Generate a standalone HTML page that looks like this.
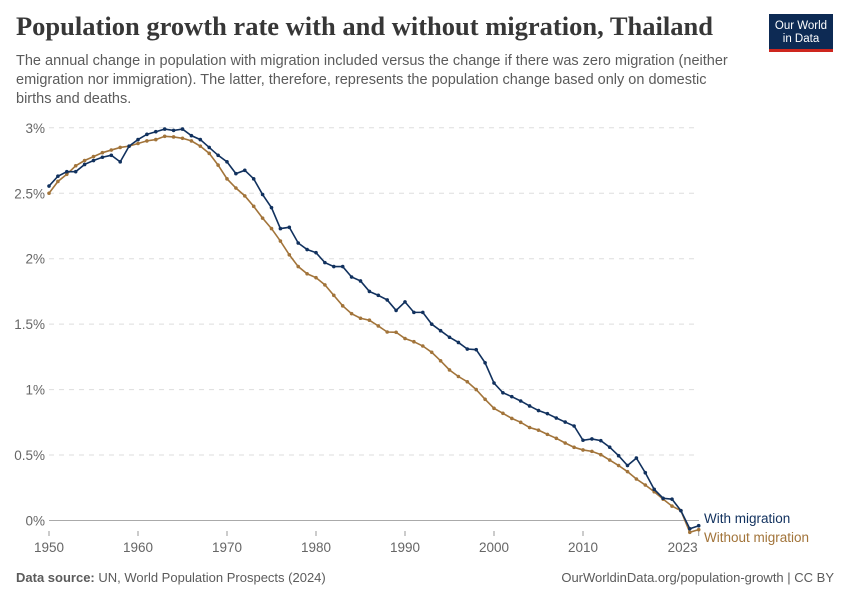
<!DOCTYPE html>
<html><head><meta charset="utf-8">
<style>
body{margin:0;background:#fff;width:850px;height:600px;overflow:hidden;font-family:"Liberation Sans",sans-serif;}
#title{position:absolute;left:16px;top:11px;font-family:"Liberation Serif",serif;font-weight:bold;font-size:26.5px;color:#373737;margin:0;white-space:nowrap;}
#sub{position:absolute;left:16px;top:52px;width:715px;font-size:14.5px;line-height:19px;color:#5b5b5b;}
#logo{position:absolute;left:769px;top:14px;width:64px;height:38px;background:#0d2a54;color:#fff;font-size:11.5px;line-height:12.5px;text-align:center;padding-top:6px;box-sizing:border-box;border-bottom:3px solid #ce261e;}
.foot{position:absolute;top:570px;font-size:13px;color:#5b5b5b;}
</style></head><body>
<h1 id="title">Population growth rate with and without migration, Thailand</h1>
<div id="sub">The annual change in population with migration included versus the change if there was zero migration (neither emigration nor immigration). The latter, therefore, represents the population change based only on domestic births and deaths.</div>
<div id="logo">Our World<br>in Data</div>
<div class="foot" style="left:16px"><b>Data source:</b> UN, World Population Prospects (2024)</div>
<div class="foot" style="right:16px">OurWorldinData.org/population-growth | CC BY</div>
<svg id="chart" width="850" height="600" style="position:absolute;left:0;top:0"></svg>
<script>
const years=[];for(let y=1950;y<=2023;y++)years.push(y);
const withMig=[2.555,2.63,2.665,2.665,2.72,2.75,2.775,2.79,2.74,2.86,2.91,2.95,2.97,2.99,2.98,2.99,2.94,2.91,2.85,2.79,2.74,2.65,2.675,2.61,2.49,2.39,2.23,2.24,2.12,2.07,2.046,1.97,1.94,1.94,1.86,1.83,1.75,1.72,1.685,1.605,1.67,1.59,1.59,1.50,1.45,1.40,1.36,1.31,1.305,1.205,1.05,0.976,0.946,0.913,0.875,0.84,0.816,0.783,0.752,0.722,0.613,0.623,0.61,0.56,0.495,0.42,0.477,0.365,0.238,0.17,0.163,0.075,-0.063,-0.04];
const withoutMig=[2.50,2.59,2.645,2.71,2.75,2.78,2.81,2.83,2.85,2.86,2.88,2.90,2.91,2.935,2.93,2.92,2.90,2.86,2.805,2.715,2.61,2.54,2.48,2.40,2.31,2.23,2.135,2.03,1.94,1.885,1.855,1.80,1.72,1.64,1.58,1.545,1.53,1.486,1.44,1.438,1.39,1.366,1.333,1.285,1.22,1.15,1.10,1.06,1.00,0.926,0.857,0.819,0.78,0.75,0.71,0.69,0.658,0.628,0.592,0.559,0.539,0.528,0.503,0.462,0.42,0.373,0.317,0.271,0.22,0.163,0.11,0.075,-0.09,-0.07];
const yTicks=[0,0.5,1,1.5,2,2.5,3];
const yTickLabels=["0%","0.5%","1%","1.5%","2%","2.5%","3%"];
const xTicks=[1950,1960,1970,1980,1990,2000,2010,2023];
const svg=document.getElementById('chart');const NS='http://www.w3.org/2000/svg';
const X=y=>49+(y-1950)*8.9;const Y=v=>520.5-v*130.9;
function mk(t,a){const e=document.createElementNS(NS,t);for(const k in a)e.setAttribute(k,a[k]);svg.appendChild(e);return e;}
yTicks.forEach((v,i)=>{
 if(v!==0){const g=mk('line',{x1:49,x2:699,y1:Y(v),y2:Y(v),stroke:'#ddd','stroke-dasharray':'5,5'});
 
 }
 const t=mk('text',{x:45,y:Y(v)+5,'text-anchor':'end','font-size':'13.5','fill':'#666','font-family':'Liberation Sans'});t.textContent=yTickLabels[i];
 
 
});
const ax=mk('line',{x1:49,x2:699,y1:Y(0),y2:Y(0),stroke:'#aaa','stroke-width':1});


xTicks.forEach((yr,i)=>{
 const tk=mk('line',{x1:X(yr),x2:X(yr),y1:531,y2:536,stroke:'#999'});
 
 
 const last=i===xTicks.length-1;
 const t=mk('text',{x:last?X(yr)-1:X(yr),y:552,'text-anchor':last?'end':'middle','font-size':'13.5','fill':'#666','font-family':'Liberation Sans'});t.textContent=yr;
 
 
});
function series(vals,color,name){
 const p=mk('polyline',{points:vals.map((v,i)=>X(years[i])+','+Y(v)).join(' '),fill:'none',stroke:color,'stroke-width':1.6});
 
 
 vals.forEach((v,i)=>{const c=mk('circle',{cx:X(years[i]),cy:Y(v),r:1.8,fill:color});
 
 });
}
series(withoutMig,'#a2743a','without-migration');
series(withMig,'#11315e','with-migration');
const l1=mk('text',{x:704,y:523,'font-size':'13.5',fill:'#11315e','font-family':'Liberation Sans'});l1.textContent='With migration';


const l2=mk('text',{x:704,y:542,'font-size':'13.5',fill:'#a2743a','font-family':'Liberation Sans'});l2.textContent='Without migration';


</script>
</body></html>
